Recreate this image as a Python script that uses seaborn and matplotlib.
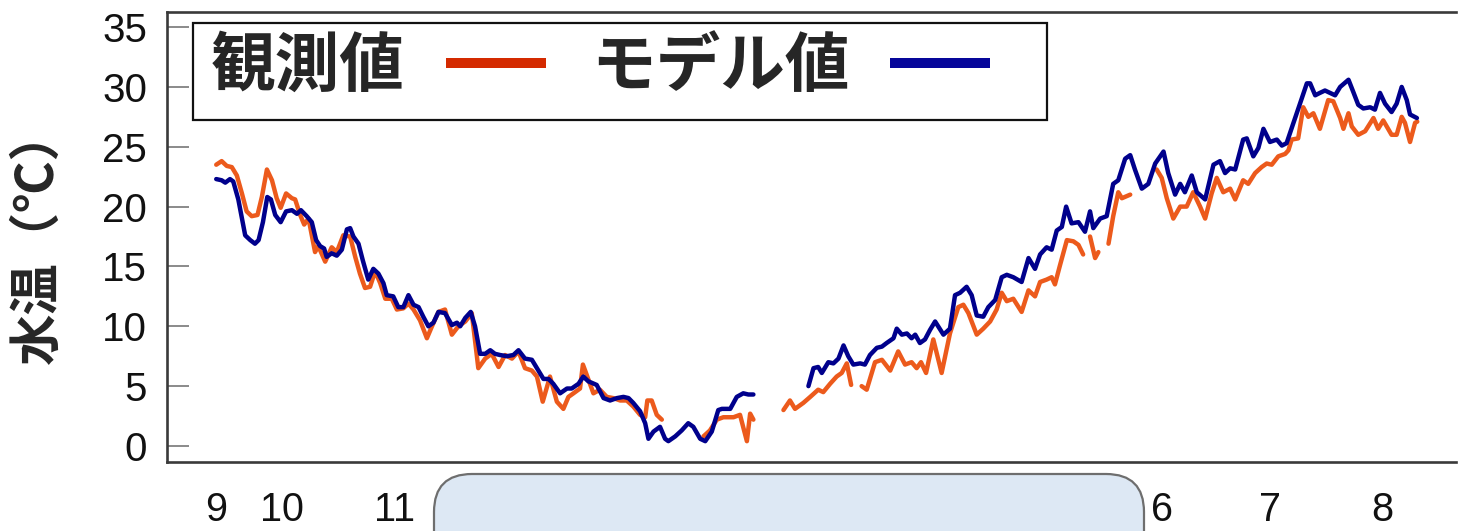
import numpy as np
import pandas as pd
import matplotlib
matplotlib.use("Agg")
import matplotlib.pyplot as plt
from matplotlib.lines import Line2D
from matplotlib.patches import FancyBboxPatch, Rectangle
from matplotlib.transforms import IdentityTransform
from matplotlib.font_manager import FontProperties
import seaborn as sns

# Day of the season (0 = 1 September); NaN marks a break in the record
obs_day = [
    11.8, 13.3, 14.7, 16.1, 17.5, 18.9, 20.2, 21.6, 23.2, 24.4,
    25.8, 27.2, 28.5, 29.6, 31.1, 32.7, 33.6, 35.0, 36.1, 37.3,
    39.1, 40.0, 41.9, 43.7, 45.1, 46.9, 48.8, 50.2, 51.5, 52.9,
    54.3, 55.7, 57.1, 58.5, 60.3, 61.7, 63.5, 64.9, 66.3, 68.1,
    70.0, 71.4, 73.2, 75.0, 76.9, 78.7, 80.6, 82.4, 84.2, 86.1,
    87.9, 89.8, 91.6, 93.5, 95.3, 97.1, 99.0, 100.4, 102.0, 104.0,
    105.9, 107.7, 109.1, 110.5, 112.3, 113.1, 114.2, 116.0, 117.8, 119.7,
    121.5, 123.4, 125.2, 127.0, 128.9, 130.3, 130.9, 132.1, 133.5, 134.9,
    np.nan,
    146.4, 148.2, 150.1, 151.9, 154.7, 156.5, 158.4, 159.3, 160.2,
    np.nan,
    168.5, 170.3, 171.7, 174.0, 175.9, 178.1, 179.5, 181.4, 183.2, 184.6,
    186.0, 187.2,
    np.nan,
    190.1, 191.5, 193.8, 195.7, 198.0, 200.2, 202.1, 203.9, 205.3, 206.5,
    207.9, 209.9, 212.2, 214.5, 216.8, 218.2, 219.6, 221.9, 223.7, 225.6,
    227.4, 228.8, 230.2, 232.0, 234.3, 236.2, 238.0, 239.4, 241.2, 242.6,
    243.5, 244.9, 246.8, 248.6, 250.0, 251.3,
    np.nan,
    253.2, 254.6, 255.5,
    np.nan,
    258.3, 259.6, 261.0, 262.0, 264.3,
    np.nan,
    271.6, 273.0, 274.4, 276.2, 278.1, 279.9, 281.7, 283.6, 285.0, 286.8,
    288.2, 290.0, 291.9, 293.3, 295.5, 296.9, 298.8, 300.6, 302.0, 303.4,
    305.2, 307.1, 308.0, 308.9, 310.7, 312.1, 313.5, 314.9, 316.7, 319.0,
    320.4, 322.3, 323.2, 324.6, 325.5, 327.3, 329.2, 331.5, 332.8, 334.2,
    336.5, 337.9, 339.3, 340.2, 341.6, 343.0, 343.6,
]
obs_temp = [
    23.5, 23.8, 23.4, 23.3, 22.6, 21.1, 19.6, 19.2, 19.3, 20.8,
    23.1, 22.2, 20.7, 19.9, 21.1, 20.7, 20.6, 19.3, 18.5, 19.0,
    16.2, 16.7, 15.4, 16.6, 16.2, 17.6, 17.5, 15.8, 14.4, 13.2,
    13.3, 14.6, 13.6, 12.3, 12.3, 11.4, 11.5, 11.9, 11.4, 10.5,
    9.0, 10.0, 11.2, 11.4, 9.3, 10.0, 10.4, 11.1, 6.5, 7.3,
    7.7, 6.6, 7.6, 7.3, 7.9, 6.5, 6.3, 5.8, 3.7, 5.8,
    3.7, 3.1, 4.1, 4.4, 4.8, 6.8, 5.9, 4.4, 4.7, 4.1,
    4.0, 3.8, 3.8, 3.3, 2.6, 2.4, 3.8, 3.8, 2.6, 2.2,
    np.nan,
    0.8, 1.3, 2.2, 2.4, 2.4, 2.6, 0.4, 2.7, 2.2,
    np.nan,
    3.0, 3.8, 3.1, 3.6, 4.1, 4.7, 4.5, 5.2, 5.8, 6.1,
    6.9, 5.1,
    np.nan,
    5.0, 4.7, 7.0, 7.2, 6.3, 7.9, 6.8, 7.0, 6.5, 7.0,
    6.1, 8.9, 6.1, 9.4, 11.6, 11.8, 11.1, 9.3, 9.8, 10.4,
    11.4, 12.8, 12.1, 12.3, 11.2, 13.0, 12.5, 13.7, 13.9, 14.1,
    13.5, 15.1, 17.2, 17.1, 16.8, 16.0,
    np.nan,
    17.5, 15.7, 16.2,
    np.nan,
    16.9, 19.2, 21.2, 20.7, 21.0,
    np.nan,
    23.1, 22.4, 20.7, 19.0, 20.0, 20.0, 21.2, 20.0, 19.0, 21.1,
    22.4, 21.2, 21.5, 20.6, 22.2, 21.9, 22.8, 23.3, 23.6, 23.5,
    24.2, 24.4, 24.7, 25.6, 25.7, 28.3, 27.5, 27.8, 26.5, 28.9,
    28.8, 27.4, 26.5, 27.8, 26.7, 26.0, 26.3, 27.4, 26.5, 27.2,
    26.0, 26.0, 27.5, 27.0, 25.4, 27.0, 27.1,
]

model_day = [
    11.8, 13.3, 14.3, 15.6, 16.5, 17.9, 19.8, 21.2, 22.5, 23.5,
    24.7, 25.9, 26.9, 28.1, 29.6, 31.1, 32.7, 34.1, 35.2, 36.8,
    38.2, 39.4, 40.5, 41.6, 42.3, 43.7, 45.1, 46.5, 47.9, 48.8,
    49.7, 51.1, 52.3, 53.8, 55.2, 56.6, 58.0, 58.9, 60.7, 62.1,
    63.5, 64.9, 66.3, 67.7, 69.0, 70.4, 71.8, 73.2, 75.0, 76.9,
    78.3, 79.2, 80.6, 82.1, 83.3, 84.7, 86.1, 87.5, 88.8, 90.2,
    92.1, 93.9, 95.3, 97.1, 99.0, 100.4, 102.2, 103.6, 104.9, 106.8,
    108.7, 110.0, 111.9, 113.2, 114.6, 116.9, 118.8, 120.6, 122.5, 124.3,
    125.7, 127.0, 128.9, 130.3, 131.2, 132.6, 134.4, 135.8, 136.7, 138.6,
    140.4, 142.2, 143.6, 145.5, 146.9, 148.7, 150.5, 151.5, 153.8, 155.6,
    157.4, 158.8, 160.2,
    np.nan,
    175.4, 176.8, 178.1, 179.1, 180.9, 182.3, 183.7, 185.1, 186.4, 187.8,
    189.7, 191.0, 192.4, 194.3, 195.7, 197.0, 198.9, 199.8, 201.2, 202.6,
    203.9, 204.9, 206.2, 207.6, 209.0, 210.4, 212.7, 214.5, 215.9, 217.3,
    219.1, 220.5, 221.9, 223.7, 225.1, 227.0, 228.8, 230.2, 232.0, 234.3,
    236.2, 238.0, 239.4, 241.2, 242.6, 244.0, 245.4, 246.6, 248.1, 250.0,
    251.8, 253.2, 254.1, 256.0, 257.8, 259.6, 261.0, 262.9, 264.3, 265.6,
    267.5, 269.3, 271.2, 273.5, 274.8, 276.7, 278.1, 279.4, 281.3, 282.7,
    285.0, 287.3, 289.1, 290.5, 291.9, 293.3, 295.5, 296.5, 298.3, 299.7,
    301.1, 302.9, 304.8, 306.2, 307.5, 309.4, 311.2, 313.1, 314.0, 315.4,
    316.7, 318.1, 319.5, 320.9, 322.3, 324.6, 325.9, 327.3, 328.7, 330.6,
    331.9, 333.3, 334.7, 336.5, 337.9, 339.3, 340.7, 341.6, 343.5,
]
model_temp = [
    22.3, 22.2, 22.0, 22.3, 22.1, 20.6, 17.6, 17.2, 16.9, 17.2,
    18.7, 20.8, 20.6, 19.3, 18.7, 19.6, 19.7, 19.4, 19.7, 19.2,
    18.7, 17.2, 16.7, 16.5, 15.8, 16.1, 15.9, 16.4, 18.1, 18.2,
    17.5, 16.9, 15.5, 13.9, 14.8, 14.4, 13.6, 12.6, 12.5, 11.6,
    11.6, 12.6, 11.8, 11.6, 10.8, 10.0, 10.3, 11.2, 11.1, 10.1,
    10.3, 10.0, 10.7, 11.2, 10.0, 7.7, 7.7, 8.0, 7.7, 7.6,
    7.5, 7.6, 8.0, 7.3, 7.2, 6.5, 5.6, 5.6, 5.2, 4.4,
    4.8, 4.8, 5.2, 5.8, 5.4, 5.1, 4.0, 3.8, 4.0, 4.1,
    4.0, 3.6, 2.9, 1.9, 0.6, 1.2, 1.6, 0.6, 0.4, 0.8,
    1.3, 1.9, 1.6, 0.6, 0.4, 1.2, 3.0, 3.1, 3.1, 4.1,
    4.4, 4.3, 4.3,
    np.nan,
    5.0, 6.5, 6.6, 6.1, 7.0, 6.9, 7.3, 8.4, 7.5, 6.8,
    6.9, 6.8, 7.6, 8.2, 8.3, 8.6, 9.0, 9.8, 9.3, 9.4,
    9.0, 9.3, 8.6, 8.9, 9.7, 10.4, 9.3, 9.8, 12.6, 12.8,
    13.3, 12.6, 10.9, 10.8, 11.6, 12.2, 14.1, 14.3, 14.1, 13.7,
    15.7, 14.8, 16.0, 16.6, 16.4, 18.0, 18.3, 20.0, 18.6, 18.7,
    17.9, 19.6, 18.2, 19.0, 19.2, 21.9, 22.2, 24.0, 24.3, 23.1,
    21.5, 21.9, 23.6, 24.6, 22.8, 21.0, 21.9, 21.2, 22.6, 21.2,
    20.6, 23.5, 23.8, 22.8, 23.2, 23.1, 25.6, 25.7, 24.2, 24.9,
    26.5, 25.4, 25.6, 25.1, 25.3, 27.0, 28.6, 30.3, 30.3, 29.3,
    29.5, 29.7, 29.5, 29.3, 30.0, 30.6, 29.6, 28.5, 28.2, 28.3,
    28.1, 29.5, 28.6, 27.9, 28.6, 30.0, 28.9, 27.7, 27.4,
]

series_names = ["観測値", "モデル値"]
line_colors = ["#EC5A1C", "#00008C"]
legend_colors = ["#D42A00", "#06069A"]

# Month labels left uncovered by the panel along the lower edge
month_tick_days = [11.8, 30, 61, 273, 303, 334]
month_tick_labels = ["9", "10", "11", "6", "7", "8"]
temp_ticks = [0, 5, 10, 15, 20, 25, 30, 35]
y_label = "水温（℃）"


def to_frame(days, temps, name):
    d = pd.DataFrame({"day": days, "temp": temps})
    d["seg"] = d["temp"].isna().cumsum()
    d = d.dropna().copy()
    d["series"] = name
    d["unit"] = name + "_" + d["seg"].astype(str)
    return d


df = pd.concat([to_frame(obs_day, obs_temp, series_names[0]),
                to_frame(model_day, model_temp, series_names[1])],
               ignore_index=True)

sns.set_style("white")
plt.rcParams["font.family"] = ["Liberation Sans", "Noto Sans CJK JP", "DejaVu Sans"]

W, H = 1458, 531
fig = plt.figure(figsize=(W / 100, H / 100), dpi=100)
fig.patch.set_facecolor("white")
ax = fig.add_axes([167 / W, 69 / H, (1456 - 167) / W, (462 - 12) / H])

sns.lineplot(data=df, x="day", y="temp", hue="series", hue_order=series_names,
             palette=line_colors, units="unit", estimator=None, sort=False,
             linewidth=3.2, legend=False, ax=ax,
             solid_joinstyle="round", solid_capstyle="round")

ax.set_xlim(-1.8, 354.3)
ax.set_ylim(-1.34, 36.26)
ax.set_xlabel("")
ax.set_ylabel("")
ax.set_xticks(month_tick_days)
ax.set_xticklabels(month_tick_labels)
ax.set_yticks(temp_ticks)
ax.set_yticklabels([str(t) for t in temp_ticks])

for side in ["top", "bottom", "left"]:
    ax.spines[side].set_color("#3a3a3a")
    ax.spines[side].set_linewidth(1.9)
ax.spines["right"].set_visible(False)

ax.tick_params(axis="y", direction="in", length=15.8, width=1.4,
               color="#8a8a8a", pad=14.4, labelsize=29, labelcolor="#111111",
               left=True)
ax.tick_params(axis="x", length=0, pad=21, labelsize=28.5, labelcolor="#111111")

jp_bold = FontProperties(family="Noto Sans CJK JP", weight="bold", size=37)
fig.text(37.5 / W, 1 - 236 / H, y_label, rotation=90, ha="center", va="center",
         fontproperties=jp_bold, color="#262626")

# Legend: label first, then its line sample, inside a plain black box
handles = [Line2D([], [], color=c, lw=7.2, solid_capstyle="butt") for c in legend_colors]
leg_font = FontProperties(family="Noto Sans CJK JP", weight="bold", size=46.5)
leg = ax.legend(handles, series_names, ncol=2, markerfirst=False, frameon=False,
                prop=leg_font, labelcolor="#262626", handlelength=1.55,
                handletextpad=0.63, columnspacing=0.70, borderpad=0,
                borderaxespad=0, loc="center left",
                bbox_to_anchor=(211 / W, 1 - 67 / H), bbox_transform=fig.transFigure)
ax.add_patch(Rectangle((193 / W, 1 - 120 / H), (1047 - 193) / W, (120 - 23) / H,
                       transform=fig.transFigure, facecolor="white",
                       edgecolor="#111111", lw=1.6, zorder=4, clip_on=False))

# Rounded panel over the lower edge
panel = FancyBboxPatch((434, -60), 1144 - 434, 60 + (H - 474),
                       boxstyle="round,pad=0,rounding_size=38",
                       transform=IdentityTransform(), facecolor="#DDE8F4",
                       edgecolor="#6E6E6E", lw=1.6, zorder=5)
fig.add_artist(panel)

fig.savefig("out.png", dpi=100, facecolor="white")
